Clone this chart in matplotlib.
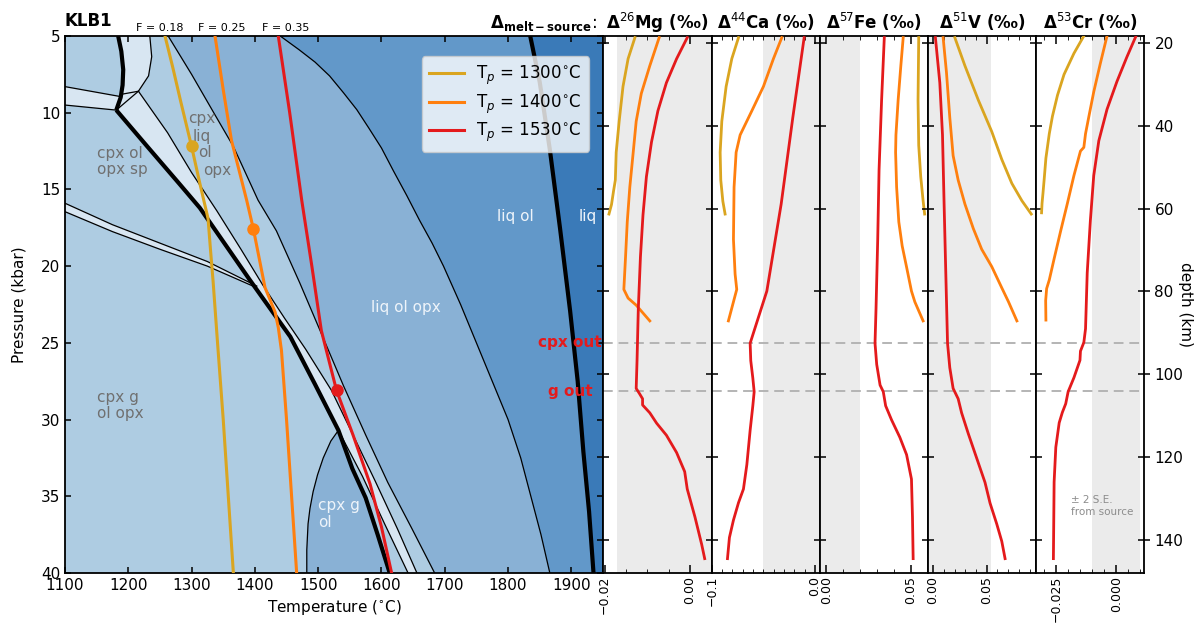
import matplotlib
matplotlib.use("Agg")
import matplotlib.pyplot as plt
from matplotlib.ticker import MultipleLocator

FIG_W, FIG_H = 1199, 624

# ---- KLB1 phase boundaries (T in C, P in kbar) ----
solidus_T = [1181, 1230, 1280, 1313, 1350, 1392, 1430, 1456, 1495, 1532, 1554, 1575, 1594, 1613]
solidus_P = [9.83, 12.2, 14.6, 16.2, 18.4, 20.9, 23.1, 24.6, 27.7, 30.7, 33.2, 35.1, 37.5, 40.0]
low_solidus_T = [1184, 1189, 1192, 1191, 1188, 1181]
low_solidus_P = [5.0, 6.0, 7.2, 8.2, 9.0, 9.83]
liquidus_T = [1835, 1850, 1866, 1882, 1898, 1910, 1919, 1928, 1935]
liquidus_P = [5.0, 8.0, 12.4, 17.5, 22.9, 27.5, 32.1, 36.0, 40.0]
cpx_out_T = [1263, 1300, 1335, 1366, 1405, 1434, 1471, 1503, 1540, 1575, 1610, 1648, 1684]
cpx_out_P = [5.0, 7.5, 10.0, 12.2, 15.7, 17.7, 21.1, 24.2, 27.8, 31.0, 34.1, 37.1, 40.0]
opx_out_T = [1440, 1470, 1495, 1518, 1540, 1561, 1580, 1600, 1619, 1640, 1660, 1680, 1698,
             1725, 1750, 1775, 1800, 1820, 1836, 1852, 1866]
opx_out_P = [5.0, 5.9, 6.7, 7.6, 8.7, 9.8, 11.0, 12.3, 13.8, 15.4, 17.0, 18.5, 20.0,
             22.5, 25.0, 27.5, 30.0, 32.5, 35.0, 37.5, 40.0]
g_out_T = [1216, 1262, 1300, 1340, 1378, 1412, 1447, 1480, 1521, 1555, 1590, 1625, 1656]
g_out_P = [8.6, 11.3, 13.9, 16.4, 18.9, 21.2, 23.4, 25.4, 28.1, 31.0, 34.0, 37.1, 40.0]
opx_in_T = [1532, 1570, 1605, 1642]
opx_in_P = [30.7, 33.7, 36.8, 40.0]
g_in_T = [1532, 1520, 1508, 1499, 1492, 1487, 1484, 1482, 1482]
g_in_P = [30.7, 31.4, 32.5, 33.6, 34.7, 35.8, 36.8, 38.5, 40.0]
sp_out_T = [1100, 1175, 1250, 1325, 1403]
sp_out_P = [15.9, 17.3, 18.5, 19.7, 21.3]
sp_g_T = [1100, 1175, 1250, 1325, 1397]
sp_g_P = [16.45, 17.75, 18.9, 20.0, 21.3]
pl_upper_T = [1100, 1188]
pl_upper_P = [8.3, 8.95]
pl_lower_T = [1100, 1181]
pl_lower_P = [9.5, 9.83]
bubble_T = [1184, 1234, 1237, 1232, 1216, 1189]
bubble_P = [5.0, 5.0, 6.35, 7.6, 8.6, 8.8]

# ---- mantle adiabats ----
tp1300_T = [1258, 1270, 1283, 1300, 1313, 1326, 1330, 1334, 1341, 1350, 1358, 1366]
tp1300_P = [5.0, 7.0, 9.3, 12.2, 14.6, 16.9, 19.0, 21.0, 25.0, 30.0, 35.0, 40.0]
tp1400_T = [1337, 1350, 1363, 1387, 1397.5, 1416, 1432, 1437, 1442, 1450, 1458, 1466]
tp1400_P = [5.0, 8.5, 11.8, 15.7, 17.55, 21.4, 23.0, 24.0, 25.5, 30.0, 35.0, 40.0]
tp1530_T = [1437, 1455, 1474, 1490, 1505, 1513, 1529, 1555, 1582, 1600, 1616]
tp1530_P = [5.0, 10.0, 15.7, 20.0, 24.2, 25.5, 28.1, 31.0, 34.2, 37.0, 40.0]
dot_T = [1300, 1397.5, 1530]
dot_P = [12.2, 17.55, 28.1]
tp_labels = ["1300", "1400", "1530"]
f_labels = ["F = 0.18", "F = 0.25", "F = 0.35"]
f_label_T = [1249, 1348, 1448]
out_labels = ["cpx out", "g out"]
out_P = [25.0, 28.15]

# ---- melt - source isotope offsets vs depth (km) ----
mg_d_1300 = [18.7, 23.8, 30.5, 38.9, 46.4, 53.1, 55.6, 59.0, 61.3]
mg_1300 = [-0.0129, -0.0145, -0.0157, -0.0166, -0.0173, -0.0175, -0.0179, -0.0184, -0.0190]
mg_d_1400 = [18.7, 25.5, 32.2, 38.9, 46.4, 54.8, 63.2, 71.6, 79.5, 81.6, 83.3, 87.1]
mg_1400 = [-0.0072, -0.0094, -0.0114, -0.0126, -0.0133, -0.0141, -0.0147, -0.0151, -0.0155,
           -0.0145, -0.0126, -0.0094]
mg_d_1530 = [18.7, 23.8, 29.6, 36.4, 43.9, 52.3, 61.5, 71.6, 84.1, 96.7, 103.4, 104.7, 105.9,
             107.4, 109.3, 111.8, 114.7, 118.9, 123.5, 127.7, 134.4, 141.1, 144.5]
mg_1530 = [-0.0006, -0.0031, -0.0055, -0.0075, -0.0090, -0.0102, -0.0110, -0.0116, -0.0121,
           -0.0124, -0.0126, -0.0118, -0.0111, -0.0111, -0.0094, -0.0078, -0.0055, -0.0031,
           -0.0012, -0.0006, 0.0012, 0.0028, 0.0035]

ca_d_1300 = [18.7, 23.8, 30.5, 38.9, 46.4, 53.1, 58.2, 61.3]
ca_1300 = [-0.0741, -0.0806, -0.0861, -0.0903, -0.0919, -0.0913, -0.0893, -0.0871]
ca_d_1400 = [18.7, 23.8, 30.5, 36.4, 42.2, 46.4, 54.8, 67.4, 75.8, 79.5, 82.5, 87.1]
ca_1400 = [-0.0321, -0.0402, -0.0499, -0.0612, -0.0725, -0.0764, -0.0784, -0.0790, -0.0774,
           -0.0758, -0.0790, -0.0839]
ca_d_1530 = [18.7, 38.0, 58.9, 79.9, 90.0, 92.5, 96.7, 100.9, 104.2, 107.6, 113.5, 121.8,
             127.7, 131.0, 135.2, 139.4, 144.5]
ca_1530 = [-0.0104, -0.0214, -0.0327, -0.0466, -0.0596, -0.0628, -0.0622, -0.0602, -0.0589,
           -0.0602, -0.0628, -0.0660, -0.0693, -0.0741, -0.0790, -0.0829, -0.0848]

fe_d_1300 = [18.7, 33.8, 44.7, 52.3, 58.1, 61.3]
fe_1300 = [0.0547, 0.0543, 0.0547, 0.0559, 0.0573, 0.0582]
fe_d_1400 = [18.7, 25.5, 33.8, 42.2, 46.4, 54.8, 63.2, 69.0, 74.1, 79.9, 82.5, 87.1]
fe_1400 = [0.0455, 0.0441, 0.0425, 0.0412, 0.0410, 0.0416, 0.0429, 0.0449, 0.0475, 0.0504,
           0.0524, 0.0573]
fe_d_1530 = [18.7, 33.8, 50.6, 67.4, 84.1, 92.5, 97.6, 102.6, 104.2, 107.6, 111.0, 115.2,
             119.4, 125.3, 134.4, 144.5]
fe_1530 = [0.0343, 0.0327, 0.0312, 0.0304, 0.0294, 0.0288, 0.0298, 0.0318, 0.0337, 0.0351,
           0.0386, 0.0435, 0.0475, 0.0504, 0.0510, 0.0514]

v_d_1300 = [18.7, 25.5, 33.8, 41.4, 48.1, 53.9, 58.1, 61.3]
v_1300 = [0.0203, 0.0297, 0.0422, 0.0547, 0.0640, 0.0734, 0.0828, 0.0915]
v_d_1400 = [18.7, 27.1, 38.0, 47.2, 53.1, 58.9, 64.8, 69.8, 74.0, 79.1, 82.5, 87.1]
v_1400 = [0.0094, 0.0125, 0.0156, 0.0187, 0.0234, 0.0297, 0.0375, 0.0453, 0.0547, 0.0640,
          0.0703, 0.0781]
v_d_1530 = [18.7, 29.6, 42.2, 58.9, 75.8, 92.5, 98.4, 103.4, 105.9, 109.3, 114.3, 120.2,
            126.1, 131.1, 136.1, 140.3, 144.5]
v_1530 = [0.0022, 0.0063, 0.0088, 0.0103, 0.0119, 0.0135, 0.0156, 0.0187, 0.0234, 0.0266,
          0.0328, 0.0406, 0.0484, 0.0531, 0.0593, 0.0640, 0.0671]

cr_d_1300 = [18.3, 22.5, 27.6, 32.6, 37.7, 41.9, 47.8, 52.8, 56.2, 58.7, 61.0]
cr_1300 = [-0.0134, -0.0175, -0.0216, -0.0243, -0.0264, -0.0277, -0.0291, -0.0298, -0.0303,
           -0.0307, -0.0309]
cr_d_1400 = [18.3, 25.0, 31.8, 37.7, 41.9, 45.2, 46.1, 52.0, 58.7, 65.4, 72.1, 77.2, 79.3,
             82.2, 86.9]
cr_1400 = [-0.0038, -0.0066, -0.0093, -0.0113, -0.0127, -0.0134, -0.0148, -0.0175, -0.0202,
           -0.0230, -0.0257, -0.0277, -0.0288, -0.0292, -0.0291]
cr_d_1530 = [18.3, 23.4, 29.3, 36.0, 43.6, 52.0, 62.9, 75.5, 89.0, 92.3, 94.4, 96.6, 100.8,
             104.2, 107.1, 109.2, 111.7, 117.6, 126.0, 144.5]
cr_1530 = [0.0082, 0.0044, 0.0003, -0.0038, -0.0072, -0.0093, -0.0107, -0.0120, -0.0127,
           -0.0134, -0.0148, -0.0150, -0.0175, -0.0199, -0.0209, -0.0223, -0.0236, -0.0250,
           -0.0257, -0.0260]

# +/- 2 S.E. of the source composition
se_mg, se_ca, se_fe, se_v, se_cr = 0.017, 0.05, 0.02, 0.054, 0.010

# ---- style ----
TP_COLORS = ["#DAA520", "#FF7F0E", "#E41A1C"]
VERY_LIGHT = "#d8e6f2"
LIGHT = "#aecce2"
MEDIUM = "#89b1d5"
DARK = "#6298c9"
DARKEST = "#3a7ab8"
GRAY_TXT = "#707070"
WHITE_TXT = "#eef4fa"

P_LIM = (40, 5)
DEPTH_LIM = (147.97, 18.31)

plt.rcParams.update({
    "font.family": "DejaVu Sans",
    "font.size": 11,
    "axes.linewidth": 1.3,
    "xtick.direction": "in",
    "ytick.direction": "in",
    "xtick.major.width": 1.1,
    "ytick.major.width": 1.1,
})


def px_rect(x0, y0, x1, y1):
    return [x0 / FIG_W, 1 - y1 / FIG_H, (x1 - x0) / FIG_W, (y1 - y0) / FIG_H]


def depth_of(p):
    # pressure axis and depth axis span the same height
    frac = (p - P_LIM[1]) / (P_LIM[0] - P_LIM[1])
    return DEPTH_LIM[1] + frac * (DEPTH_LIM[0] - DEPTH_LIM[1])


fig = plt.figure(figsize=(FIG_W / 100, FIG_H / 100), dpi=100)

# ================= phase diagram =================
ax = fig.add_axes(px_rect(65, 36, 603, 573))
ax.set_facecolor(LIGHT)
ax.set_xlim(1100, 1950)
ax.set_ylim(*P_LIM)

edge_T = 2000
ax.fill(cpx_out_T + [edge_T, edge_T], cpx_out_P + [40, 5], color=MEDIUM, lw=0, zorder=1)
ax.fill(opx_out_T + [edge_T, edge_T], opx_out_P + [40, 5], color=DARK, lw=0, zorder=1)
ax.fill(liquidus_T + [edge_T, edge_T], liquidus_P + [40, 5], color=DARKEST, lw=0, zorder=1)

# narrow five-phase band along the solidus
upper_S = [(t, p) for t, p in zip(solidus_T, solidus_P) if p <= opx_in_P[0]]
lower_S = [(t, p) for t, p in zip(solidus_T, solidus_P) if p >= opx_in_P[0]]
band = upper_S + list(zip(opx_in_T[1:], opx_in_P[1:])) + list(zip(g_out_T, g_out_P))[::-1]
band += [(bubble_T[-1], bubble_P[-1])]
ax.fill(*zip(*band), color=VERY_LIGHT, lw=0, zorder=1)

# cpx g ol field below the solidus
gfield = list(zip(g_in_T, g_in_P)) + lower_S[::-1]
ax.fill(*zip(*gfield), color=MEDIUM, lw=0, zorder=1)

# spinel -> garnet band
spband = list(zip(sp_out_T, sp_out_P)) + list(zip(sp_g_T, sp_g_P))[::-1]
ax.fill(*zip(*spband), color=VERY_LIGHT, lw=0, zorder=1)

# low pressure bands
plband = list(zip(pl_upper_T, pl_upper_P)) + list(zip(pl_lower_T, pl_lower_P))[::-1]
ax.fill(*zip(*plband), color=VERY_LIGHT, lw=0, zorder=1)
bub = list(zip(bubble_T, bubble_P)) + [(t, p) for t, p in zip(low_solidus_T, low_solidus_P)
                                         if p < bubble_P[-1]][::-1]
ax.fill(*zip(*bub), color=VERY_LIGHT, lw=0, zorder=1)

thin = dict(color="black", lw=0.9, zorder=2)
for T, P in [(cpx_out_T, cpx_out_P), (opx_out_T, opx_out_P), (g_out_T, g_out_P),
             (opx_in_T, opx_in_P), (g_in_T, g_in_P), (sp_out_T, sp_out_P),
             (sp_g_T, sp_g_P), (pl_upper_T, pl_upper_P), (pl_lower_T, pl_lower_P),
             (bubble_T[1:], bubble_P[1:])]:
    ax.plot(T, P, **thin)
ax.plot([solidus_T[0], g_out_T[0]], [solidus_P[0], g_out_P[0]], **thin)
thick = dict(color="black", lw=3.0, zorder=3, solid_capstyle="butt")
ax.plot(solidus_T, solidus_P, **thick)
ax.plot(low_solidus_T, low_solidus_P, **thick)
ax.plot(liquidus_T, liquidus_P, **thick)

# field labels
ax.text(1151, 13.2, "cpx ol\nopx sp", color=GRAY_TXT, ha="left", va="center", fontsize=11,
        linespacing=1.1)
ax.text(1151, 29.1, "cpx g\nol opx", color=GRAY_TXT, ha="left", va="center", fontsize=11,
        linespacing=1.1)
for word, t, p in [("cpx", 1294, 10.38), ("liq", 1302, 11.53), ("ol", 1310, 12.62),
                   ("opx", 1318, 13.75)]:
    ax.text(t, p, word, color=GRAY_TXT, ha="left", va="center", fontsize=11)
ax.text(1639, 22.7, "liq ol opx", color=WHITE_TXT, ha="center", va="center", fontsize=11)
ax.text(1811, 16.76, "liq ol", color=WHITE_TXT, ha="center", va="center", fontsize=11)
ax.text(1926, 16.76, "liq", color=WHITE_TXT, ha="center", va="center", fontsize=11)
ax.text(1500, 36.16, "cpx g\nol", color=WHITE_TXT, ha="left", va="center", fontsize=11,
        linespacing=1.1)

# adiabats
for T, P, c, lab in zip([tp1300_T, tp1400_T, tp1530_T], [tp1300_P, tp1400_P, tp1530_P],
                        TP_COLORS, tp_labels):
    ax.plot(T, P, color=c, lw=2.2, zorder=5, label=r"T$_p$ = " + lab + r"$^{\circ}$C")
for t, p, c in zip(dot_T, dot_P, TP_COLORS):
    ax.plot(t, p, "o", color=c, ms=8, zorder=6)

for lab, p in zip(out_labels, out_P):
    ax.text(1898, p, lab, color="#E41A1C", fontweight="bold", fontsize=11,
            ha="center", va="center", zorder=7)

leg = ax.legend(loc="upper right", bbox_to_anchor=(0.974, 0.962), fontsize=12,
                handlelength=2.1, borderaxespad=0, framealpha=0.8, borderpad=0.45,
                labelspacing=0.32, handletextpad=0.7)
leg.set_zorder(10)

ax.set_xticks(range(1100, 1950, 100))
ax.set_yticks(range(5, 45, 5))
ax.tick_params(which="both", top=True, right=True, length=4.5)
ax.set_xlabel(r"Temperature ($^{\circ}$C)", fontsize=11)
ax.set_ylabel("Pressure (kbar)", fontsize=11, labelpad=10)
ax.text(0, 1.019, "KLB1", transform=ax.transAxes, fontsize=12, fontweight="bold",
        va="baseline")
for lab, t in zip(f_labels, f_label_T):
    ax.text(t, 1.006, lab, transform=ax.get_xaxis_transform(), fontsize=8,
            ha="center", va="bottom")
fig.text(597 / FIG_W, 1 - 28 / FIG_H, r"$\mathbf{\Delta_{melt-source}}$:", fontsize=12,
         ha="right", va="baseline")

# ================= isotope panels =================
panels = [
    ("26", "Mg", [mg_1300, mg_1400, mg_1530], [mg_d_1300, mg_d_1400, mg_d_1530], se_mg,
     (-0.0204, 0.0051), 0.02, 0.005),
    ("44", "Ca", [ca_1300, ca_1400, ca_1530], [ca_d_1300, ca_d_1400, ca_d_1530], se_ca,
     (-0.1003, 0.0045), 0.1, 0.01),
    ("57", "Fe", [fe_1300, fe_1400, fe_1530], [fe_d_1300, fe_d_1400, fe_d_1530], se_fe,
     (-0.0041, 0.0602), 0.05, 0.01),
    ("51", "V", [v_1300, v_1400, v_1530], [v_d_1300, v_d_1400, v_d_1530], se_v,
     (-0.0047, 0.0959), 0.05, 0.01),
    ("53", "Cr", [cr_1300, cr_1400, cr_1530], [cr_d_1300, cr_d_1400, cr_d_1530], se_cr,
     (-0.0332, 0.0115), 0.025, 0.005),
]
edges = [603, 711.5, 819.5, 928, 1036, 1144]

for i, (mass, elem, xs, ds, se, xlim, major, minor) in enumerate(panels):
    pax = fig.add_axes(px_rect(edges[i], 36, edges[i + 1], 573))
    pax.axvspan(-se, se, color="#ebebeb", lw=0, zorder=0)
    for p in out_P:
        pax.axhline(depth_of(p), color="#b4b4b4", lw=1.4, ls=(0, (5, 3)), zorder=1)
    for x, d, c in zip(xs, ds, TP_COLORS):
        pax.plot(x, d, color=c, lw=2.0, zorder=3)
    pax.set_xlim(*xlim)
    pax.set_ylim(*DEPTH_LIM)
    pax.xaxis.set_major_locator(MultipleLocator(major))
    pax.xaxis.set_minor_locator(MultipleLocator(minor))
    pax.yaxis.set_major_locator(MultipleLocator(20))
    pax.tick_params(axis="x", which="both", top=True, bottom=True, direction="in",
                    labelrotation=90, labelsize=9, pad=2)
    pax.tick_params(axis="x", which="major", length=6)
    pax.tick_params(axis="x", which="minor", length=3)
    last = i == len(panels) - 1
    pax.tick_params(axis="y", direction="inout", length=8, left=True, right=last,
                    labelleft=False, labelright=last, labelsize=11)
    pax.set_title("Δ$^{" + mass + "}$" + elem + " (‰)", fontweight="bold", fontsize=12,
                  pad=5)
    if last:
        pax.text(1.38, 0.5, "depth (km)", transform=pax.transAxes, rotation=270,
                 ha="center", va="center", fontsize=11)
        pax.text(-0.0189, 131.8, "± 2 S.E.\nfrom source", color="#8c8c8c", fontsize=7.5,
                 ha="left", va="center")

fig.savefig("out.png", dpi=100)
